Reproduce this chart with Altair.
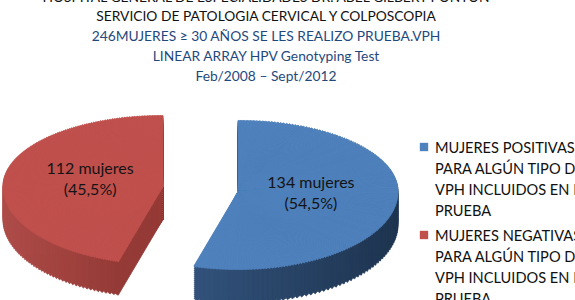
import altair as alt
import pandas as pd

# ---------------- data ----------------
title_black = [
    "HOSPITAL GENERAL DE ESPECIALIDADES DR. ABEL GILBERT PONTON",
    "SERVICIO DE PATOLOGIA CERVICAL Y COLPOSCOPIA",
]
title_blue = [
    "246MUJERES \u2265 30 A\u00d1OS SE LES REALIZO PRUEBA.VPH",
    "LINEAR ARRAY HPV Genotyping Test",
    "Feb/2008 \u2013 Sept/2012",
]
slice_names = [
    "MUJERES POSITIVAS PARA ALG\u00daN TIPO DE VPH INCLUIDOS EN LA PRUEBA",
    "MUJERES NEGATIVAS PARA ALG\u00daN TIPO DE VPH INCLUIDOS EN LA PRUEBA",
]
legend_lines = [
    "MUJERES POSITIVAS\nPARA ALG\u00daN TIPO DE\nVPH INCLUIDOS EN LA\nPRUEBA",
    "MUJERES NEGATIVAS\nPARA ALG\u00daN TIPO DE\nVPH INCLUIDOS EN LA\nPRUEBA",
]
counts = [134, 112]
unit_word = "mujeres"

# ---------------- styles / geometry ----------------
top_colors = ["#4F81BD", "#C0504D"]
side_ranges = [["#3F6496", "#1F3550"], ["#AE4C49", "#6A1D1A"]]
FONT = "Lato"
CX, CY = 200.5, 189
A, B_BACK, B_FRONT = 160, 71, 78
EXPLODE = 0.237
DEPTH = 33
N_TOP = 180
N_SIDE = 110

pie_df = pd.DataFrame({"cat": slice_names, "count": counts,
                       "order": list(range(len(counts)))})


def pie_base():
    return (
        alt.Chart(pie_df)
        .transform_joinaggregate(total="sum(count)")
        .transform_window(cum="sum(count)", sort=[alt.SortField("order")])
        .transform_calculate(a0="2*PI*(datum.cum-datum.count)/datum.total")
        .transform_calculate(a1="2*PI*datum.cum/datum.total")
        .transform_calculate(mid="(datum.a0+datum.a1)/2")
        .transform_calculate(cx=f"{CX} + {EXPLODE}*{A}*sin(datum.mid)")
        .transform_calculate(cy=f"{CY} - {EXPLODE}*{(B_BACK + B_FRONT) / 2}*cos(datum.mid)")
    )


def bexpr(t):
    return f"(cos({t}) > 0 ? {B_BACK} : {B_FRONT})"


def wedges(n):
    return (
        pie_base()
        .transform_calculate(k=f"sequence(0, {n})")
        .transform_flatten(["k"])
        .transform_calculate(t0=f"datum.a0 + (datum.a1-datum.a0)*datum.k/{n}")
        .transform_calculate(t1=f"datum.a0 + (datum.a1-datum.a0)*(datum.k+1)/{n}")
        .transform_calculate(tm="(datum.t0+datum.t1)/2")
        .transform_calculate(u0=f"atan2({A}*sin(datum.t0), {bexpr('datum.t0')}*cos(datum.t0))")
        .transform_calculate(u1=f"atan2({A}*sin(datum.t1), {bexpr('datum.t1')}*cos(datum.t1))")
        .transform_calculate(q0="datum.u0 + 2*PI*round((datum.t0-datum.u0)/(2*PI))")
        .transform_calculate(q1="datum.u1 + 2*PI*round((datum.t1-datum.u1)/(2*PI))")
        .transform_calculate(r=f"sqrt(pow({A}*sin(datum.tm),2) + pow({bexpr('datum.tm')}*cos(datum.tm),2))")
        .transform_calculate(shade="(sin(datum.tm)+1)/2")
    )


# side (extruded) layers, one per slice
side_layers = []
for name, rng in zip(slice_names, side_ranges):
    sc = alt.Scale(domain=[0, 1], range=rng)
    side_layers.append(
        wedges(N_SIDE)
        .transform_filter(alt.datum.cat == name)
        .transform_calculate(d=f"sequence(1, {DEPTH + 1}, 2)")
        .transform_flatten(["d"])
        .transform_calculate(cys="datum.cy + datum.d")
        .mark_arc(strokeWidth=0.8)
        .encode(
            x=alt.X("cx:Q", scale=None, axis=None),
            y=alt.Y("cys:Q", scale=None, axis=None),
            theta=alt.Theta("q0:Q", scale=None, stack=False),
            theta2="q1:Q",
            radius=alt.Radius("r:Q", scale=None),
            fill=alt.Fill("shade:Q", scale=sc, legend=None),
            stroke=alt.Stroke("shade:Q", scale=sc, legend=None),
            order=alt.Order("d:Q", sort="descending"),
        )
    )

top_scale = alt.Scale(domain=slice_names, range=top_colors)
top = (
    wedges(N_TOP)
    .mark_arc(strokeWidth=0.8)
    .encode(
        x=alt.X("cx:Q", scale=None, axis=None),
        y=alt.Y("cy:Q", scale=None, axis=None),
        theta=alt.Theta("q0:Q", scale=None, stack=False),
        theta2="q1:Q",
        radius=alt.Radius("r:Q", scale=None),
        fill=alt.Fill("cat:N", scale=top_scale, legend=None),
        stroke=alt.Stroke("cat:N", scale=top_scale, legend=None),
    )
)

labels = (
    pie_base()
    .transform_calculate(lx=f"datum.cx + 0.46*{A}*sin(datum.mid)")
    .transform_calculate(ly=f"datum.cy - 0.46*{(B_BACK + B_FRONT) / 2}*cos(datum.mid) - 13")
    .transform_calculate(
        txt=f"[datum.count + ' {unit_word}', '(' + replace(format(100*datum.count/datum.total, '.1f'), '.', ',') + '%)']"
    )
    .mark_text(font=FONT, fontSize=16, lineHeight=21, lineBreak="\n",
               baseline="middle", align="center", color="#141414")
    .encode(x=alt.X("lx:Q", scale=None, axis=None),
            y=alt.Y("ly:Q", scale=None, axis=None),
            text="txt:N")
)

# title
title_df = pd.DataFrame({
    "line": title_black + title_blue,
    "idx": list(range(len(title_black) + len(title_blue))),
    "grp": ["black"] * len(title_black) + ["blue"] * len(title_blue),
})
title = (
    alt.Chart(title_df)
    .transform_calculate(ty="1.5 + 19.8*datum.idx")
    .mark_text(font=FONT, fontSize=13.8, align="center", baseline="alphabetic")
    .encode(
        x=alt.value(266),
        y=alt.Y("ty:Q", scale=None, axis=None),
        text="line:N",
        color=alt.Color("grp:N", scale=alt.Scale(domain=["black", "blue"],
                                                 range=["#111111", "#1F497D"]), legend=None),
    )
)

# legend
leg_df = pd.DataFrame({"cat": slice_names, "txt": legend_lines,
                       "idx": list(range(len(slice_names)))})
leg_base = alt.Chart(leg_df).transform_calculate(ly="147 + 88*datum.idx")
leg_sq = leg_base.mark_square(size=70, opacity=1).encode(
    x=alt.value(424),
    y=alt.Y("ly:Q", scale=None, axis=None),
    fill=alt.Fill("cat:N", scale=top_scale, legend=None),
)
leg_txt = (
    leg_base.transform_calculate(lb="datum.ly + 5.5")
    .mark_text(font=FONT, fontSize=14.6, lineHeight=21, lineBreak="\n",
               align="left", baseline="alphabetic", color="#111111")
    .encode(x=alt.value(435), y=alt.Y("lb:Q", scale=None, axis=None), text="txt:N")
)

chart = (
    alt.layer(title, *side_layers, top, labels, leg_sq, leg_txt)
    .resolve_scale(fill="independent", stroke="independent", color="independent")
    .properties(width=575, height=300, autosize="none", padding=0, background="white")
    .configure_view(stroke="transparent")
)

chart.save("out.html", embed_options={"renderer": "svg", "actions": False})
